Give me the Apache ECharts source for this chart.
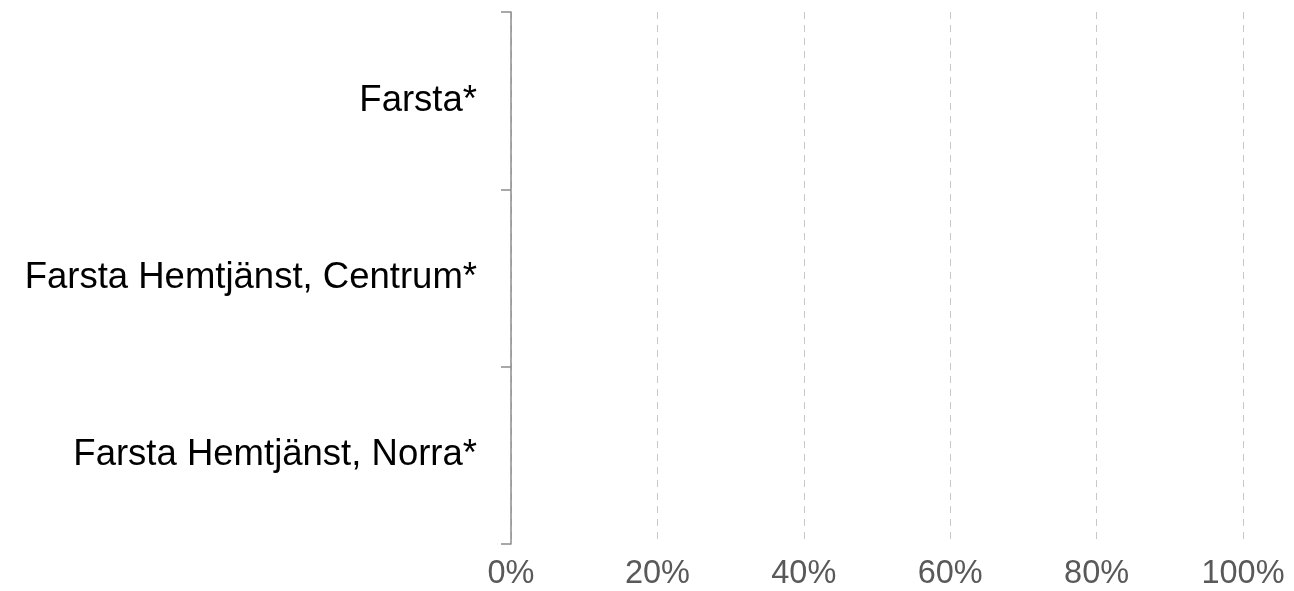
<!DOCTYPE html>
<html>
<head>
<meta charset="utf-8">
<style>html,body{margin:0;padding:0;background:#fff;}#c{width:1294px;height:591px;}</style>
<script src="https://cdn.jsdelivr.net/npm/echarts@6/dist/echarts.min.js"></script>
</head>
<body>
<div id="c"></div>
<script>
var categories = ["Farsta*", "Farsta Hemtjänst, Centrum*", "Farsta Hemtjänst, Norra*"];
var values = [null, null, null];
var xTicks = [0, 20, 40, 60, 80, 100];

var chart = echarts.init(document.getElementById('c'), null, {renderer: 'canvas'});
chart.setOption({
  animation: false,
  grid: {left: 511, right: 51, top: 12, bottom: 46, containLabel: false},
  xAxis: {
    type: 'value', min: xTicks[0], max: xTicks[xTicks.length - 1], interval: 20,
    axisLine: {show: false}, axisTick: {show: false},
    splitLine: {show: true, lineStyle: {color: '#c8c8c8', width: 1, type: [7, 6]}},
    axisLabel: {formatter: '{value}%', color: '#595959', fontFamily: 'Liberation Sans, Arial, sans-serif', fontSize: 32.5, margin: 14}
  },
  yAxis: {
    type: 'category', data: categories, inverse: true,
    axisLine: {show: true, lineStyle: {color: '#8c8c8c', width: 1.5}},
    axisTick: {show: true, length: 10, lineStyle: {color: '#8c8c8c', width: 1.5}},
    axisLabel: {color: '#000000', fontFamily: 'Liberation Sans, Arial, sans-serif', fontSize: 36.5, margin: 34}
  },
  series: [{type: 'bar', data: values}]
});
</script>
</body>
</html>
